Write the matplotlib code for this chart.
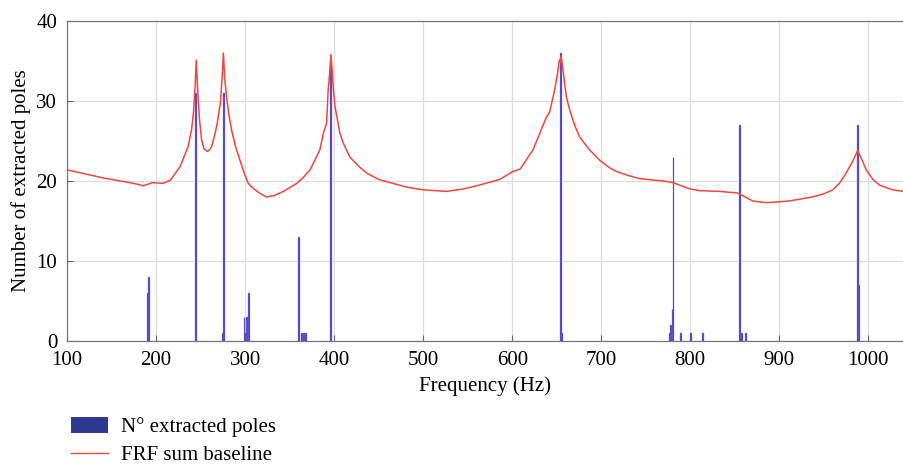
#!/usr/bin/env python3
"""Extracted pole count against the FRF sum baseline."""

import matplotlib

matplotlib.use("Agg")
import matplotlib.pyplot as plt
from matplotlib.lines import Line2D
from matplotlib.patches import Patch

# FRF sum baseline (frequency in Hz, scaled amplitude)
frf_freq = [
    100, 120, 140, 160, 175, 186, 191, 196, 208, 216, 227, 236, 240, 242, 244,
    245.1, 246.3, 247.4, 249, 251.2, 254, 257.5, 260, 262.4, 266, 268.7, 272.5,
    274.5, 275.6, 277, 279.2, 281.5, 284.8, 289, 294.2, 299, 303.5, 309, 316,
    324, 333, 343, 358, 365, 373, 384, 388, 391.5, 393.3, 395, 396.4, 398,
    399.5, 401, 406.4, 410, 417.6, 427, 436.4, 450, 466, 483, 500, 526, 545,
    563.5, 586, 601, 609, 623.4, 638.4, 642, 647.7, 651, 652.6, 653.5, 654,
    654.8, 655.5, 657, 660.8, 664.5, 670, 675.8, 686, 698.2, 710, 717, 730,
    743, 760, 770, 780.5, 790, 800, 810, 833, 853, 860, 870, 885, 900, 911,
    937, 950, 960, 968, 975, 982, 988, 993, 997.5, 1005, 1012.5, 1027, 1040,
]
frf_value = [
    21.4, 20.9, 20.4, 20.0, 19.7, 19.4, 19.6, 19.8, 19.7, 20.1, 21.8, 24.3,
    26.5, 28.5, 32.0, 35.1, 32.5, 30.0, 27.5, 25.1, 24.0, 23.7, 23.9, 24.3,
    25.8, 27.2, 30.0, 33.5, 36.0, 33.0, 30.5, 28.5, 26.4, 24.4, 22.6, 21.0,
    19.7, 19.1, 18.5, 18.0, 18.2, 18.7, 19.7, 20.4, 21.4, 23.9, 26.0, 27.2,
    31.4, 33.5, 35.8, 33.5, 31.0, 29.3, 26.0, 24.8, 23.0, 21.9, 21.0, 20.2,
    19.7, 19.2, 18.9, 18.7, 19.0, 19.5, 20.2, 21.2, 21.5, 23.9, 28.0, 28.6,
    31.4, 33.5, 34.9, 35.2, 34.8, 35.5, 35.2, 33.9, 30.5, 28.9, 27.0, 25.5,
    24.0, 22.6, 21.6, 21.2, 20.7, 20.3, 20.1, 20.0, 19.8, 19.4, 19.0, 18.8,
    18.7, 18.5, 18.1, 17.5, 17.3, 17.4, 17.5, 18.0, 18.4, 18.9, 19.8, 21.0,
    22.4, 23.8, 22.6, 21.4, 20.2, 19.5, 18.9, 18.7,
]

# extracted poles per frequency bin
pole_freq = [
    190, 191.7, 244.6, 274.2, 275.5, 298.8, 300.2, 302, 303.9, 360.4, 363.6,
    365.5, 368, 396.4, 654.3, 655.8, 777, 778.1, 779.4, 780.6, 789.4, 800,
    814.1, 855.3, 857.2, 862, 988.1, 989.3,
]
pole_count = [
    6, 8, 31, 1, 31, 3, 1, 3, 6, 13, 1, 1, 1, 35, 36, 1, 1, 2, 4, 23, 1, 1, 1,
    27, 1, 1, 27, 7,
]

x_ticks = [100, 200, 300, 400, 500, 600, 700, 800, 900, 1000]
y_ticks = [0, 10, 20, 30, 40]

BAR_COLOR = "#5a4cc2"
LEGEND_BAR = "#2e3a8f"
LINE_COLOR = "#f0473c"
FONT = ["Liberation Serif", "DejaVu Serif"]


def main() -> int:
    plt.rcParams["font.family"] = FONT
    plt.rcParams["font.size"] = 15

    fig = plt.figure(figsize=(9.04, 4.66), dpi=100)
    ax = fig.add_axes([67 / 904, 125 / 466, 1 - 67 / 904, 320 / 466])

    # thin bars: an edge of the same colour keeps them at least ~1.5 px wide
    ax.bar(pole_freq, pole_count, width=1.0, color=BAR_COLOR,
           edgecolor=BAR_COLOR, linewidth=0.9, zorder=3)
    ax.plot(frf_freq, frf_value, color=LINE_COLOR, linewidth=1.1, zorder=4)

    ax.set_xlim(100, 1040)
    ax.set_ylim(0, 40)
    ax.set_xticks(x_ticks)
    ax.set_yticks(y_ticks)
    ax.grid(True, color="#dddddd", linewidth=0.9, zorder=0)
    ax.tick_params(direction="in", length=4, color="#666666", labelsize=15, pad=7)
    for side in ("left", "bottom", "top", "right"):
        ax.spines[side].set_color("#777777")
        ax.spines[side].set_linewidth(0.9)

    ax.set_xlabel("Frequency (Hz)", fontsize=15, labelpad=5)
    ax.set_ylabel("Number of extracted poles", fontsize=15, labelpad=4)

    handles = [
        Patch(facecolor=LEGEND_BAR, edgecolor="none"),
        Line2D([], [], color=LINE_COLOR, linewidth=1.0),
    ]
    fig.legend(
        handles,
        ["N\u00b0 extracted poles", "FRF sum baseline"],
        loc="upper left",
        bbox_to_anchor=(52 / 904, 1 - 398 / 466),
        frameon=False,
        fontsize=15,
        handlelength=1.8,
        handleheight=0.8,
        handletextpad=0.6,
        labelspacing=0.4,
    )

    fig.savefig("out.png", dpi=100)
    return 0


if __name__ == "__main__":
    raise SystemExit(main())
